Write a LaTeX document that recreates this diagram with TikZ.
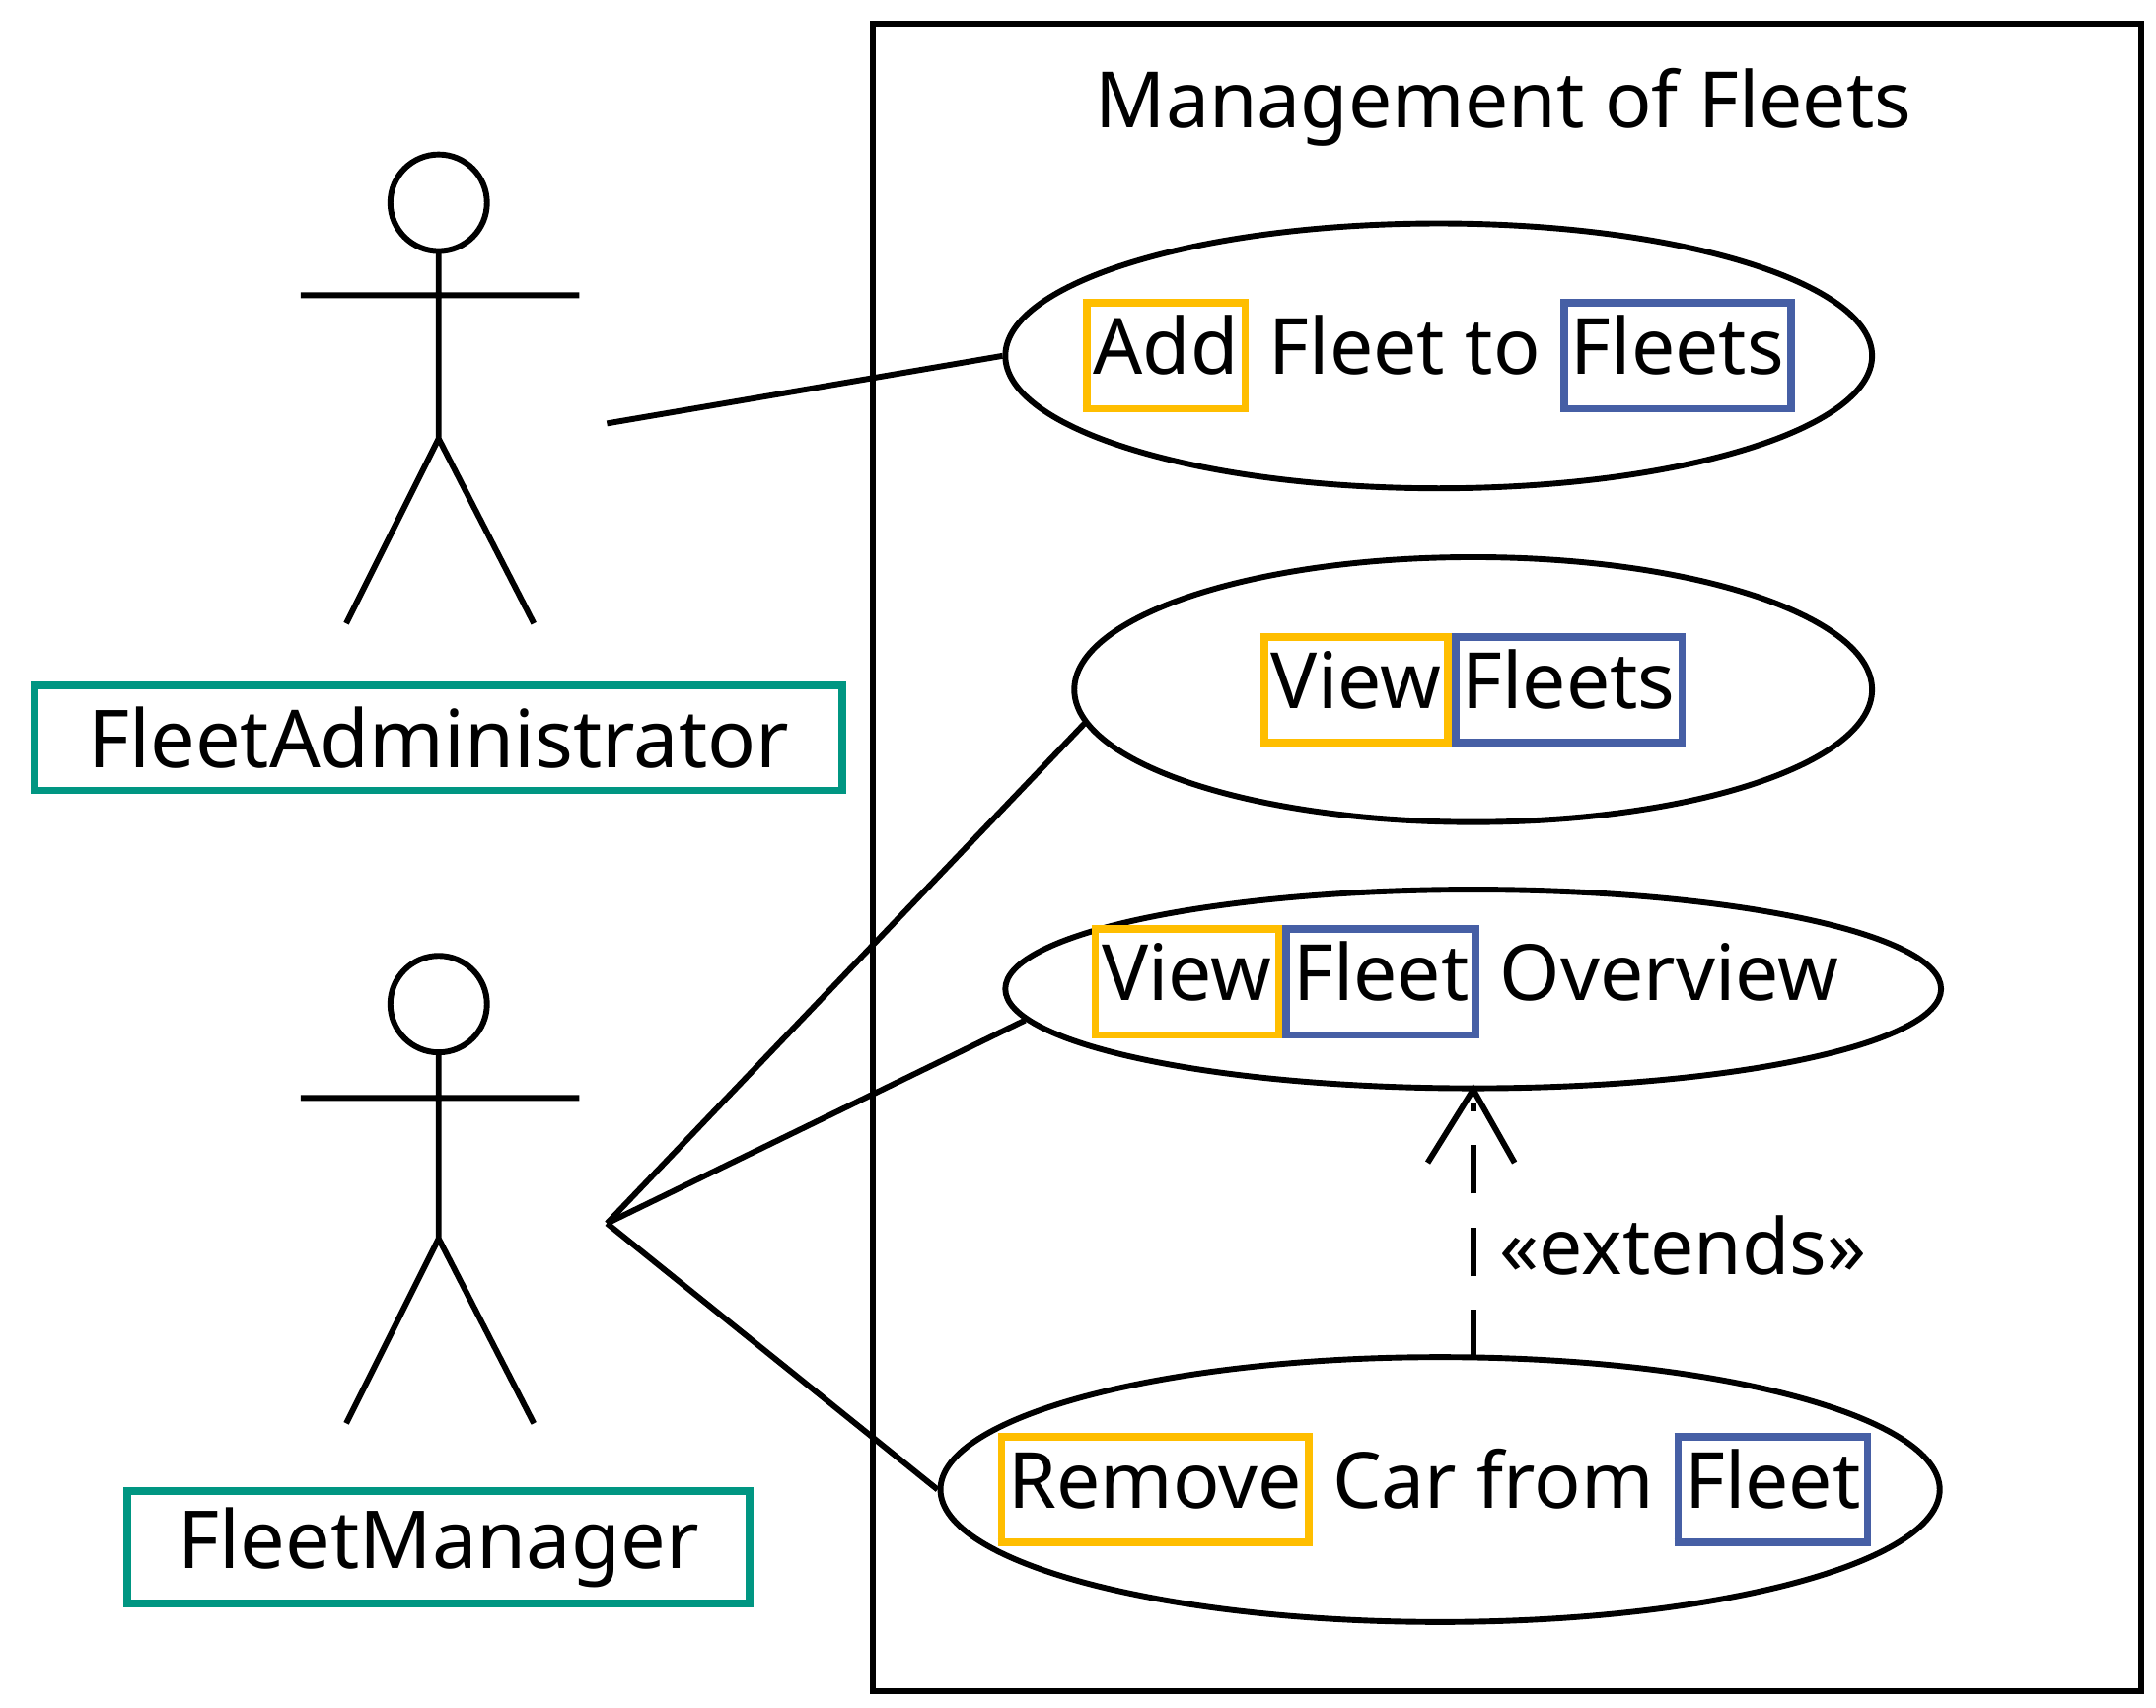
\documentclass[tikz,border=0pt]{standalone}
\usetikzlibrary{shapes.geometric}
\usepackage{fontspec}
\setmainfont{Noto Sans}
\definecolor{yel}{RGB}{255,190,0}
\definecolor{blu}{RGB}{70,95,165}
\definecolor{tea}{RGB}{0,150,130}
\newcommand{\yb}[1]{{\fboxrule=1.6pt\fboxsep=0.6pt\fcolorbox{yel}{white}{\strut #1}}}
\newcommand{\bb}[1]{{\fboxrule=1.6pt\fboxsep=0.6pt\fcolorbox{blu}{white}{\strut #1}}}
\begin{document}
\begin{tikzpicture}[x=0.01cm,y=-0.01cm,line width=1.2pt,
  uc/.style={draw,ellipse,inner sep=0pt},
  lbl/.style={draw=tea,line width=1.6pt,minimum width=#1,minimum height=0.76cm,font=\fontsize{16.5}{19}\selectfont},
  txt/.style={font=\fontsize{16}{19}\selectfont,inner sep=0pt}]
\useasboundingbox (0,0) rectangle (1563,1238);
\coordinate (s1) at (633,17); \coordinate (s2) at (1552,1226);
\draw (s1) rectangle (s2);
\node[txt,font=\fontsize{16}{19}\selectfont] (title) at (1090,78) {Management of Fleets};
% actor 1
\node[draw,circle,minimum size=0.7cm,inner sep=0pt] (h1) at (318,147) {};
\coordinate (n1) at (318,182); \coordinate (hip1) at (318,318);
\coordinate (la1) at (218,214); \coordinate (ra1) at (420,214);
\coordinate (ll1) at (251,452); \coordinate (rl1) at (387,452);
\draw (n1)--(hip1) (la1)--(ra1) (ll1)--(hip1)--(rl1);
\node[lbl=5.85cm] (a1) at (318,535) {FleetAdministrator};
% actor 2
\node[draw,circle,minimum size=0.7cm,inner sep=0pt] (h2) at (318,728) {};
\coordinate (n2) at (318,763); \coordinate (hip2) at (318,898);
\coordinate (la2) at (218,796); \coordinate (ra2) at (420,796);
\coordinate (ll2) at (251,1032); \coordinate (rl2) at (387,1032);
\draw (n2)--(hip2) (la2)--(ra2) (ll2)--(hip2)--(rl2);
\node[lbl=4.51cm] (a2) at (318,1122) {FleetManager};
% use cases
\node[uc,minimum width=6.28cm,minimum height=1.92cm] (u1) at (1043,258) {};
\node[txt] at (u1) {\yb{Add} Fleet to \bb{Fleets}};
\node[uc,minimum width=5.78cm,minimum height=1.92cm] (u2) at (1068,500) {};
\node[txt] at (u2) {\yb{View}\bb{Fleets}};
\node[uc,minimum width=6.78cm,minimum height=1.44cm] (u3) at (1068,717) {};
\node[txt] at (1062,712) {\yb{View}\bb{Fleet} Overview};
\node[uc,minimum width=7.24cm,minimum height=1.92cm] (u4) at (1044,1080) {};
\node[txt] at (1040,1080) {\yb{Remove} Car from \bb{Fleet}};
% connectors
\coordinate (p1) at (440,307); \coordinate (p2) at (440,887);
\draw (p1)--(u1.west);
\draw (p2)--(u2.185);
\draw (p2)--(u3.184);
\draw (p2)--(u4.west);
\coordinate (e0) at (1068,985); \coordinate (e1) at (1068,790);
\draw (1035,843)--(e1)--(1098,843);
\draw[dash pattern=on 10pt off 7pt] (e0)--(1068,800);
\node[txt,anchor=west] (ext) at (1085,903) {«extends»};
\end{tikzpicture}
\end{document}
